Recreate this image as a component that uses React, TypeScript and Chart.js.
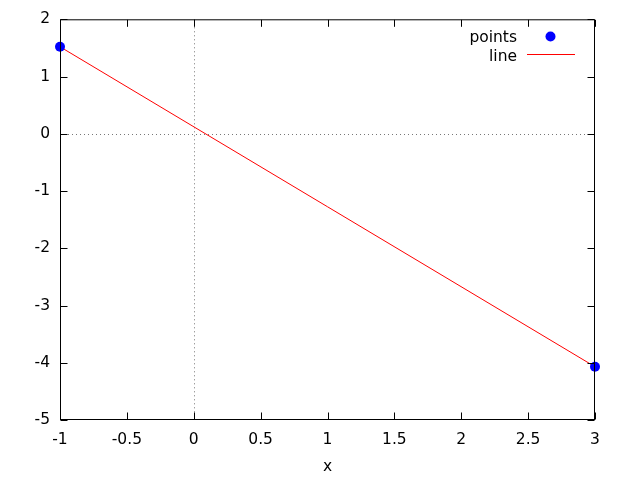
import React, { useEffect, useRef } from "react";
import { Chart, registerables } from "chart.js";

Chart.register(...registerables);

const xValues = [-1, 3];
const pointValues = [1.52, -4.07];
const lineValues = [1.52, -4.07];
const seriesLabels = ["points", "line"];
const xTickRange = { min: -1, max: 3, step: 0.5 };
const yTickRange = { min: -5, max: 2, step: 1 };
const xTitle = "x";

const FONT = "'DejaVu Sans', sans-serif";
const FONT_SIZE = 15.5;

const framePlugin = {
  id: "gnuplotFrame",
  beforeDatasetsDraw(chart: any) {
    const { ctx, chartArea } = chart;
    const xs = chart.scales.x;
    const ys = chart.scales.y;
    ctx.save();
    ctx.strokeStyle = "#777";
    ctx.lineWidth = 1;
    ctx.setLineDash([1, 3]);
    const x0 = Math.round(xs.getPixelForValue(0)) + 0.5;
    const y0 = Math.round(ys.getPixelForValue(0)) + 0.5;
    ctx.beginPath();
    ctx.moveTo(x0, chartArea.top);
    ctx.lineTo(x0, chartArea.bottom);
    ctx.moveTo(chartArea.left, y0);
    ctx.lineTo(chartArea.right, y0);
    ctx.stroke();
    ctx.setLineDash([]);
    ctx.restore();
  },
  afterDatasetsDraw(chart: any) {
    const { ctx, chartArea } = chart;
    const xs = chart.scales.x;
    const ys = chart.scales.y;
    const L = chartArea.left + 0.5;
    const R = chartArea.right - 0.5;
    const T = chartArea.top + 0.5;
    const B = chartArea.bottom - 0.5;
    ctx.save();
    ctx.strokeStyle = "#000";
    ctx.lineWidth = 1;
    ctx.beginPath();
    const tl = 7;
    xs.ticks.forEach((t: any) => {
      const p = Math.round(xs.getPixelForValue(t.value)) + 0.5;
      ctx.moveTo(p, B);
      ctx.lineTo(p, B - tl);
      ctx.moveTo(p, T);
      ctx.lineTo(p, T + tl);
    });
    ys.ticks.forEach((t: any) => {
      const p = Math.round(ys.getPixelForValue(t.value)) + 0.5;
      ctx.moveTo(L, p);
      ctx.lineTo(L + tl, p);
      ctx.moveTo(R, p);
      ctx.lineTo(R - tl, p);
    });
    ctx.stroke();
    ctx.strokeRect(L, T, R - L, B - T);

    // legend
    const ds = chart.data.datasets;
    ctx.font = `${FONT_SIZE}px ${FONT}`;
    ctx.textAlign = "right";
    ctx.textBaseline = "middle";
    const textRight = 517;
    const rows = [36.5, 55];
    ds.forEach((d: any, i: number) => {
      const y = rows[i];
      ctx.fillStyle = "#000";
      ctx.fillText(d.label, textRight, y + 1.5);
      if (d.showLine) {
        ctx.strokeStyle = d.borderColor;
        ctx.lineWidth = 1;
        ctx.beginPath();
        ctx.moveTo(527, y - 0.5);
        ctx.lineTo(575, y - 0.5);
        ctx.stroke();
      } else {
        ctx.fillStyle = d.backgroundColor;
        ctx.beginPath();
        ctx.arc(550.5, y, 5, 0, Math.PI * 2);
        ctx.fill();
      }
    });
    ctx.restore();
  },
};

export default function App() {
  const ref = useRef<HTMLCanvasElement | null>(null);
  useEffect(() => {
    if (!ref.current) return;
    const chart = new Chart(ref.current, {
      type: "scatter",
      data: {
        datasets: [
          {
            label: seriesLabels[0],
            data: xValues.map((x, i) => ({ x, y: pointValues[i] })),
            backgroundColor: "#0000ff",
            borderColor: "#0000ff",
            pointRadius: 5,
            pointBorderWidth: 0,
            showLine: false,
            clip: false as any,
          },
          {
            label: seriesLabels[1],
            data: xValues.map((x, i) => ({ x, y: lineValues[i] })),
            borderColor: "#ff0000",
            backgroundColor: "#ff0000",
            borderWidth: 1,
            pointRadius: 0,
            showLine: true,
          },
        ],
      },
      options: {
        responsive: false,
        animation: false,
        devicePixelRatio: 1,
        layout: { padding: { top: 19, right: 45, left: 0, bottom: 0 } },
        plugins: { legend: { display: false }, tooltip: { enabled: false } },
        scales: {
          x: {
            type: "linear",
            min: xTickRange.min,
            max: xTickRange.max,
            grid: { display: false, drawTicks: false },
            border: { display: false },
            ticks: {
              stepSize: xTickRange.step,
              padding: 11,
              color: "#000",
              font: { family: FONT, size: FONT_SIZE },
              maxRotation: 0,
              autoSkip: false,
              callback: (v: any) => String(v),
            },
            title: {
              display: true,
              text: xTitle,
              color: "#000",
              font: { family: FONT, size: FONT_SIZE },
              padding: { top: 4, bottom: 4 },
            },
            afterFit: (s: any) => {
              s.height = 60;
            },
          },
          y: {
            type: "linear",
            min: yTickRange.min,
            max: yTickRange.max,
            grid: { display: false, drawTicks: false },
            border: { display: false },
            ticks: {
              stepSize: yTickRange.step,
              padding: 10,
              color: "#000",
              font: { family: FONT, size: FONT_SIZE },
              autoSkip: false,
              callback: (v: any) => String(v),
            },
            afterFit: (s: any) => {
              s.width = 60;
            },
          },
        },
      },
      plugins: [framePlugin],
    });
    return () => chart.destroy();
  }, []);
  return (
    <div style={{ position: "fixed", left: 0, top: 0, width: 640, height: 480, background: "#fff" }}>
      <canvas ref={ref} width={640} height={480} />
    </div>
  );
}
